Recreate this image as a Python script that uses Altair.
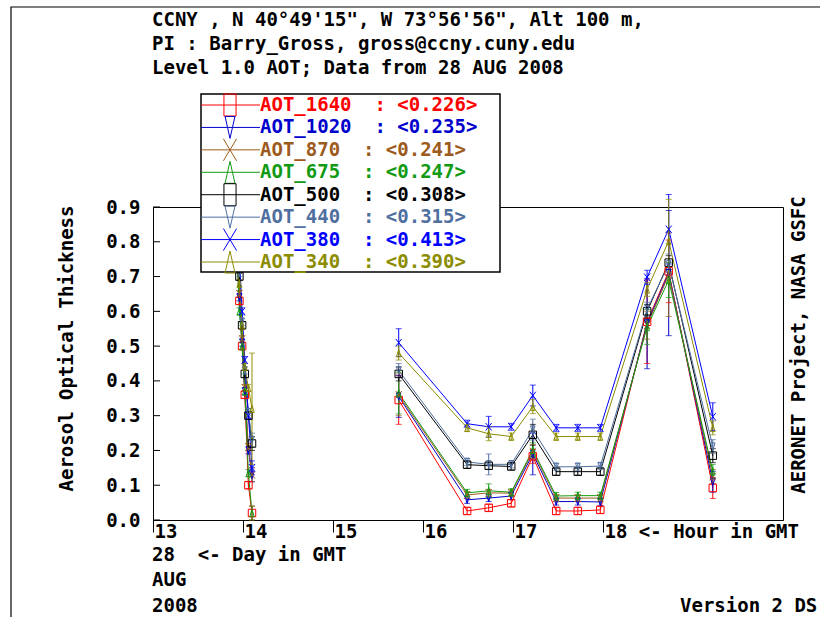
import altair as alt
import pandas as pd

FONT = "DejaVu Sans Mono"
FS = 19
NB = "\u00a0"

SERIES = ["AOT_1640", "AOT_1020", "AOT_870", "AOT_675", "AOT_500", "AOT_440", "AOT_380", "AOT_340"]
COLORS = ["#ff0000", "#0000cc", "#9c5a1c", "#139a13", "#000000", "#4f6fa0", "#0000ff", "#8c8c00"]
LEGEND_MEANS = [0.226, 0.235, 0.241, 0.247, 0.308, 0.315, 0.413, 0.390]

EARLY_HOURS = [13.93, 13.96, 13.99, 14.02, 14.06, 14.10]
MAIN_HOURS = [15.73, 16.49, 16.73, 16.98, 17.22, 17.48, 17.72, 17.97, 18.49, 18.73, 19.22]

AOT_1640 = [0.76, 0.63, 0.50, 0.36, 0.10, 0.02, 0.345, 0.026, 0.035, 0.048, 0.183, 0.026, 0.026, 0.029, 0.570, 0.715, 0.092]
AOT_1020 = [0.79, 0.64, 0.51, 0.37, 0.20, 0.13, 0.355, 0.058, 0.063, 0.069, 0.190, 0.053, 0.053, 0.052, 0.565, 0.710, 0.110]
AOT_870 = [0.80, 0.65, 0.52, 0.38, 0.21, 0.13, 0.360, 0.072, 0.078, 0.077, 0.197, 0.063, 0.063, 0.063, 0.560, 0.705, 0.125]
AOT_675 = [0.78, 0.60, 0.50, 0.37, 0.135, 0.02, 0.365, 0.078, 0.084, 0.080, 0.202, 0.069, 0.070, 0.070, 0.555, 0.690, 0.140]
AOT_500 = [0.84, 0.70, 0.56, 0.42, 0.30, 0.22, 0.420, 0.159, 0.156, 0.154, 0.245, 0.139, 0.139, 0.139, 0.600, 0.740, 0.185]
AOT_440 = [0.85, 0.71, 0.57, 0.43, 0.31, 0.23, 0.430, 0.167, 0.160, 0.160, 0.260, 0.153, 0.153, 0.155, 0.606, 0.735, 0.211]
AOT_380 = [0.90, 0.76, 0.60, 0.46, 0.30, 0.15, 0.510, 0.277, 0.268, 0.268, 0.358, 0.265, 0.265, 0.265, 0.698, 0.836, 0.297]
AOT_340 = [0.88, 0.68, 0.56, 0.44, 0.38, 0.32, 0.480, 0.265, 0.248, 0.240, 0.326, 0.240, 0.240, 0.240, 0.663, 0.802, 0.265]

ERR_1640 = [0.01, 0.01, 0.01, 0.01, 0.01, 0.02, 0.07, 0.01, 0.01, 0.01, 0.02, 0.01, 0.01, 0.01, 0.12, 0.09, 0.03]
ERR_1020 = [0.01, 0.01, 0.01, 0.01, 0.01, 0.02, 0.06, 0.01, 0.01, 0.01, 0.06, 0.01, 0.01, 0.01, 0.13, 0.18, 0.03]
ERR_870 = [0.01, 0.01, 0.01, 0.01, 0.01, 0.02, 0.06, 0.01, 0.01, 0.01, 0.02, 0.01, 0.01, 0.01, 0.04, 0.12, 0.02]
ERR_675 = [0.01, 0.01, 0.01, 0.01, 0.01, 0.02, 0.06, 0.01, 0.02, 0.01, 0.02, 0.01, 0.01, 0.01, 0.05, 0.05, 0.02]
ERR_500 = [0.01, 0.01, 0.01, 0.01, 0.01, 0.02, 0.02, 0.01, 0.01, 0.01, 0.03, 0.01, 0.01, 0.01, 0.02, 0.02, 0.02]
ERR_440 = [0.01, 0.01, 0.01, 0.01, 0.01, 0.02, 0.02, 0.01, 0.03, 0.01, 0.03, 0.01, 0.01, 0.01, 0.02, 0.03, 0.02]
ERR_380 = [0.01, 0.01, 0.01, 0.01, 0.01, 0.02, 0.04, 0.01, 0.03, 0.01, 0.03, 0.01, 0.01, 0.01, 0.02, 0.10, 0.04]
ERR_340 = [0.01, 0.01, 0.01, 0.01, 0.01, 0.16, 0.02, 0.01, 0.02, 0.01, 0.02, 0.01, 0.01, 0.01, 0.02, 0.12, 0.02]

X_TICKS = [13, 14, 15, 16, 17, 18]
Y_TICKS = [0.0, 0.1, 0.2, 0.3, 0.4, 0.5, 0.6, 0.7, 0.8, 0.9]

HEADER = [
    "CCNY , N 40°49'15\", W 73°56'56\", Alt 100 m,",
    "PI : Barry_Gross, gross@ccny.cuny.edu",
    "Level 1.0 AOT; Data from 28 AUG 2008",
]

# marker shapes (plot / legend)
SQ = "square"
TRI_DOWN = "M-0.6,-1L0.6,-1L0,1Z"
TRI_UP = "M0,-1L0.6,1L-0.6,1Z"
XMARK = "M-0.8,-1L0.8,1M-0.8,1L0.8,-1"
PLOT_SHAPES = [SQ, TRI_DOWN, XMARK, TRI_UP, SQ, TRI_DOWN, XMARK, TRI_UP]
L_SQ = "M-0.55,-1L0.55,-1L0.55,1L-0.55,1Z"
L_TD = "M-0.45,-1L0.45,-1L0,1Z"
L_TU = "M0,-1L0.45,1L-0.45,1Z"
L_X = "M-0.6,-1L0.6,1M-0.6,1L0.6,-1"
LEGEND_SHAPES = [L_SQ, L_TD, L_X, L_TU, L_SQ, L_TD, L_X, L_TU]

VALUES = [AOT_1640, AOT_1020, AOT_870, AOT_675, AOT_500, AOT_440, AOT_380, AOT_340]
ERRS = [ERR_1640, ERR_1020, ERR_870, ERR_675, ERR_500, ERR_440, ERR_380, ERR_340]
HOURS = EARLY_HOURS + MAIN_HOURS

rows = []
for name, vals, errs in zip(SERIES, VALUES, ERRS):
    for k, (h, v, e) in enumerate(zip(HOURS, vals, errs)):
        rows.append(dict(series=name, hour=h, aot=v, lo=max(v - e, 0), hi=v + e,
                         seg=f"{name}-{0 if k < len(EARLY_HOURS) else 1}"))
df = pd.DataFrame(rows)

leg = pd.DataFrame({
    "row": list(range(len(SERIES))),
    "label": [f"{s}{NB}{NB}:{NB}<{m:.3f}>" for s, m in zip(SERIES, LEGEND_MEANS)],
    "col": COLORS,
    "shp": LEGEND_SHAPES,
})

xscale = alt.Scale(domain=[13, 20], nice=False, zero=False)
yscale = alt.Scale(domain=[0, 0.9], nice=False, zero=False)
xaxis = alt.Axis(values=X_TICKS, format="d", title=None, grid=False,
                 labelExpr="datum.value == 18 ? '18 <- Hour in GMT' : datum.label",
                 labelAlign="left", labelBaseline="top", labelOffset=1,
                 tickSize=12, labelPadding=-10, labelOverlap=False, labelFlush=False,
                 labelBound=False, labelLimit=0)
yaxis = alt.Axis(values=Y_TICKS, format=".1f", title="Aerosol Optical Thickness", grid=False,
                 ticks=False, labelPadding=13, labelBaseline="middle",
                 titleAngle=270, titleX=-87, titleY=141, titleAlign="center",
                 titleBaseline="middle")

X = alt.X("hour:Q", scale=xscale, axis=xaxis)
color = alt.Color("series:N", scale=alt.Scale(domain=SERIES, range=COLORS), legend=None)
shape = alt.Shape("series:N", scale=alt.Scale(domain=SERIES, range=PLOT_SHAPES), legend=None)

base = alt.Chart(df)
lines = base.mark_line(strokeWidth=1).encode(
    x=X, y=alt.Y("aot:Q", scale=yscale, axis=yaxis), color=color, detail="seg:N")
errs = base.mark_rule(strokeWidth=1).encode(
    x=X, y=alt.Y("lo:Q", scale=yscale, axis=yaxis), y2="hi:Q", color=color)
cap_lo = base.mark_tick(orient="horizontal", size=6, thickness=1).encode(
    x=X, y=alt.Y("lo:Q", scale=yscale, axis=yaxis), color=color)
cap_hi = base.mark_tick(orient="horizontal", size=6, thickness=1).encode(
    x=X, y=alt.Y("hi:Q", scale=yscale, axis=yaxis), color=color)
pts = base.mark_point(filled=False, size=56, strokeWidth=1, opacity=1).encode(
    x=X, y=alt.Y("aot:Q", scale=yscale, axis=yaxis), color=color, shape=shape)
yticks = alt.Chart(pd.DataFrame({"aot": Y_TICKS})).mark_rule(color="black", strokeWidth=1).encode(
    y=alt.Y("aot:Q", scale=yscale, axis=yaxis), x=alt.value(0), x2=alt.value(7))

main = alt.layer(lines, errs, cap_lo, cap_hi, pts, yticks)

LY = alt.Y("row:Q", scale=alt.Scale(domain=[0, 7], range=[-102, 55]), axis=None)
lbase = alt.Chart(leg)
lbox = alt.Chart(pd.DataFrame({"a": [0]})).mark_rect(fill="white", stroke="black", strokeWidth=1.5).encode(
    x=alt.value(48), x2=alt.value(347), y=alt.value(-113), y2=alt.value(65))
lline = lbase.mark_rule(strokeWidth=1).encode(
    y=LY, x=alt.value(48), x2=alt.value(107), color=alt.Color("col:N", scale=None))
lpts = lbase.mark_point(filled=False, size=484, strokeWidth=1, opacity=1).encode(
    y=LY, x=alt.value(77), color=alt.Color("col:N", scale=None), shape=alt.Shape("shp:N", scale=None))
ltext = lbase.mark_text(align="left", baseline="middle", font=FONT, fontWeight="bold", fontSize=FS).encode(
    y=LY, x=alt.value(107), text="label:N", color=alt.Color("col:N", scale=None))
legend = alt.layer(lbox, lline, lpts, ltext)


def note(txt, x, y, align="left", angle=0):
    return alt.Chart(pd.DataFrame({"t": [txt.replace(" ", NB)]})).mark_text(
        align=align, baseline="middle", font=FONT, fontWeight="bold", fontSize=FS,
        color="black", angle=angle).encode(text="t:N", x=alt.value(x), y=alt.value(y))


frame = alt.Chart(pd.DataFrame({"a": [0]})).mark_rect(fillOpacity=0, stroke="black", strokeWidth=1.2).encode(
    x=alt.value(-142), x2=alt.value(700), y=alt.value(-200), y2=alt.value(460))

notes = [
    note(HEADER[0], -1, -187),
    note(HEADER[1], -1, -163),
    note(HEADER[2], -1, -139),
    note("28  <- Day in GMT", -1, 348),
    note("AUG", -1, 373),
    note("2008", -1, 399),
    note("Version 2 DS", 527, 399),
    note("AERONET Project, NASA GSFC", 646, 138, align="center", angle=270),
]

chart = alt.layer(frame, main, legend, *notes).resolve_scale(y="independent").properties(
    width=630, height=313,
    autosize=alt.AutoSizeParams(type="none"),
    padding={"left": 153, "top": 207, "right": 37, "bottom": 97},
    background="white",
).configure_view(stroke="black", strokeWidth=1).configure_axis(
    domainColor="black", tickColor="black", labelColor="black", titleColor="black",
    labelFont=FONT, titleFont=FONT, labelFontSize=FS, titleFontSize=FS,
    labelFontWeight="bold", titleFontWeight="bold", domainWidth=1, tickWidth=1,
)

chart.save("out.html", embed_options={"renderer": "svg", "actions": False})
